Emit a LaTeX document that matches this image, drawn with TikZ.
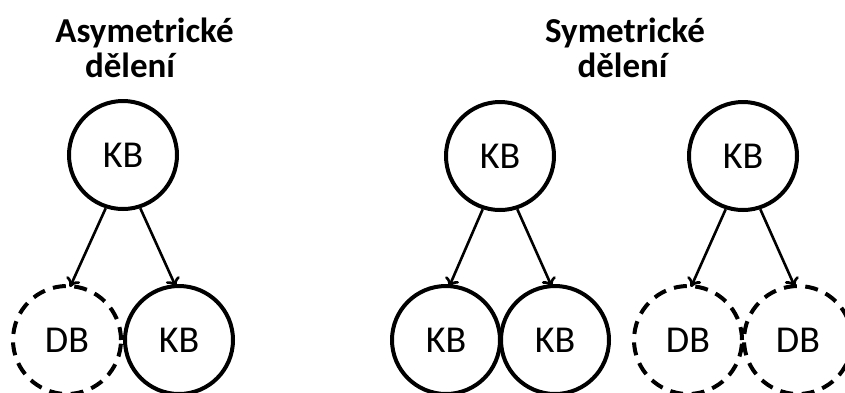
\documentclass[tikz,border=0pt]{standalone}
\usepackage{fontspec}
\setmainfont{Carlito}
\usetikzlibrary{arrows.meta}
\begin{document}
\begin{tikzpicture}[x=1pt,y=-1pt,
  cell/.style={circle,draw=black,line width=4pt,minimum size=108pt,inner sep=0pt,
    font=\fontsize{38}{42}\selectfont},
  dcell/.style={cell,dash pattern=on 13pt off 8.5pt},
  title/.style={anchor=base,font=\fontsize{35}{40}\selectfont\bfseries,inner sep=0pt},
  arr/.style={line width=2.6pt,-{To[length=9pt,width=15pt,line width=2.6pt]}}]
\clip (0,0) rectangle (845,392);
\useasboundingbox (0,0) rectangle (845,392);
% titles
\node[title] (t1a) at (144.5,42) {Asymetrické};
\node[title] (t1b) at (130,77) {dělení};
\node[title] (t2a) at (625,42) {Symetrické};
\node[title] (t2b) at (622.5,77) {dělení};
% left group
\node[cell] (a0) at (123,155) {KB};
\node[dcell] (a1) at (67,340) {DB};
\node[cell] (a2) at (179,340) {KB};
% middle group
\node[cell] (b0) at (500,156) {KB};
\node[cell] (b1) at (446,340) {KB};
\node[cell] (b2) at (555,340) {KB};
% right group
\node[cell] (c0) at (743,156) {KB};
\node[dcell] (c1) at (688,340) {DB};
\node[dcell] (c2) at (798,340) {DB};
% arrows
\draw[arr] (a0.252) -- ([xshift=3pt,yshift=-3pt]a1.north);
\draw[arr] (a0.288) -- ([xshift=-3pt,yshift=-3pt]a2.north);
\draw[arr] (b0.252) -- ([xshift=3pt,yshift=-3pt]b1.north);
\draw[arr] (b0.288) -- ([xshift=-3pt,yshift=-3pt]b2.north);
\draw[arr] (c0.252) -- ([xshift=3pt,yshift=-3pt]c1.north);
\draw[arr] (c0.288) -- ([xshift=-3pt,yshift=-3pt]c2.north);
\end{tikzpicture}
\end{document}
